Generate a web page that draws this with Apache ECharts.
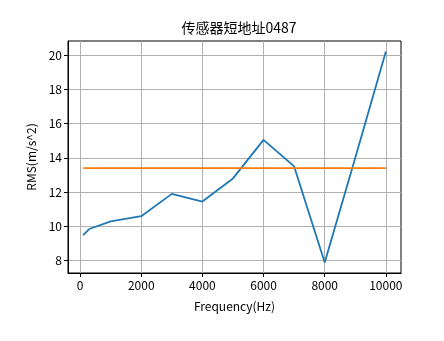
<!DOCTYPE html>
<html>
<head>
<meta charset="utf-8">
<script src="https://cdn.jsdelivr.net/npm/echarts@6/dist/echarts.min.js"></script>
<style>
html,body{margin:0;padding:0;background:#fff;}
#chart{width:444px;height:341px;}
</style>
</head>
<body>
<div id="chart"></div>
<script>
const titleText = '传感器短地址0487';
const frequencies = [100, 300, 1000, 2000, 3000, 4000, 5000, 6000, 7000, 8000, 9000, 10000];
const rmsValues = [9.5, 9.85, 10.3, 10.6, 11.9, 11.45, 12.8, 15.05, 13.5, 7.9, 14.0, 20.2];
const thresholdX = [100, 10000];
const thresholdY = [13.4, 13.4];
const xTicks = [0, 2000, 4000, 6000, 8000, 10000];
const yTicks = [8, 10, 12, 14, 16, 18, 20];

const font = '"Noto Sans CJK SC", "DejaVu Sans", sans-serif';
const chart = echarts.init(document.getElementById('chart'), null, {renderer: 'canvas'});
chart.setOption({
  animation: false,
  backgroundColor: '#fff',
  title: {
    text: titleText,
    left: 234, top: 16, textAlign: 'center',
    textStyle: {fontFamily: font, fontSize: 14, fontWeight: 'normal', color: '#000'}
  },
  grid: {left: 68, right: 43, top: 41, bottom: 68, show: true, borderColor: '#000', borderWidth: 1, backgroundColor: 'transparent'},
  xAxis: {
    type: 'value', min: -395, max: 10495,
    name: 'Frequency(Hz)', nameLocation: 'middle', nameGap: 27,
    nameTextStyle: {fontFamily: font, fontSize: 12, color: '#000'},
    axisLine: {show: true, onZero: false, lineStyle: {color: '#000', width: 1}},
    axisTick: {show: true, inside: false, length: 4, customValues: xTicks, lineStyle: {color: '#000'}},
    axisLabel: {customValues: xTicks, formatter: v => String(v), fontFamily: font, fontSize: 12, color: '#000', margin: 6},
    splitLine: {show: true, lineStyle: {color: '#b0b0b0', width: 1}}
  },
  yAxis: {
    type: 'value', min: 7.285, max: 20.815,
    name: 'RMS(m/s^2)', nameLocation: 'middle', nameGap: 30,
    nameTextStyle: {fontFamily: font, fontSize: 12, color: '#000'},
    axisLine: {show: true, onZero: false, lineStyle: {color: '#000', width: 1}},
    axisTick: {show: true, inside: false, length: 4, customValues: yTicks, lineStyle: {color: '#000'}},
    axisLabel: {customValues: yTicks, formatter: v => String(v), fontFamily: font, fontSize: 12, color: '#000', margin: 6},
    splitLine: {show: true, lineStyle: {color: '#b0b0b0', width: 1}}
  },
  series: [
    {
      type: 'line', data: frequencies.map((f, i) => [f, rmsValues[i]]),
      showSymbol: false, symbol: 'none',
      lineStyle: {color: '#1f77b4', width: 1.8}, z: 3
    },
    {
      type: 'line', data: thresholdX.map((f, i) => [f, thresholdY[i]]),
      showSymbol: false, symbol: 'none',
      lineStyle: {color: '#ff7f0e', width: 1.8}, z: 4
    }
  ]
});
</script>
</body>
</html>
